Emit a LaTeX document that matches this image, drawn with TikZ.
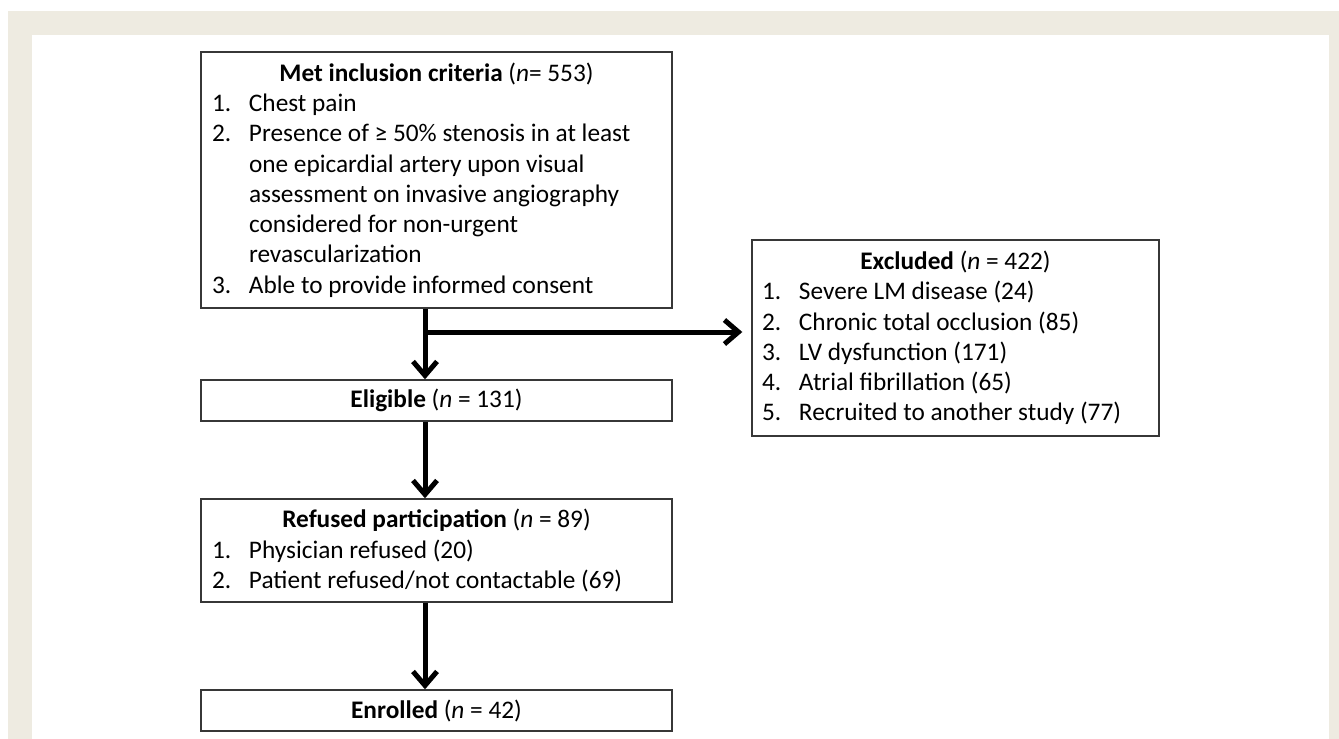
\documentclass[tikz,border=0pt]{standalone}
\usepackage{fontspec}
\setmainfont{Carlito}
\usetikzlibrary{arrows.meta,calc}
\definecolor{frame}{RGB}{238,235,225}
\definecolor{edge}{RGB}{55,55,55}
% list helpers
\newcommand{\hd}[1]{{\centering #1\par}}
\newcommand{\nm}[1]{\makebox[37pt][l]{#1}}
\newcommand{\ind}{\hspace*{37pt}}

\begin{document}
\begin{tikzpicture}[x=1pt, y=-1pt,
		box/.style={draw=edge, line width=1.4pt, inner xsep=11pt, inner ysep=0pt, align=flush left,
			font=\fontsize{25.3}{30.3}\selectfont, execute at begin node={\setlength{\parindent}{0pt}}},
		arr/.style={line width=5pt, -{Straight Barb[length=14pt, width=24pt, line width=0pt 1]}}]
		\useasboundingbox (0,0) rectangle (1339,739);
		% page frame
		\fill[frame] (8,11) rectangle (1339,739);
		\fill[white] (32,35) rectangle (1329,739);
		% boxes
		\node[box, text width=449pt, minimum width=471pt, minimum height=256pt] (inc) at (436.5,180) {%
			\hd{\textbf{Met inclusion criteria} (\textit{n}= 553)}
			\nm{1.}Chest pain\\
			\nm{2.}Presence of ≥ 50\% stenosis in at least\\
			\ind one epicardial artery upon visual\\
			\ind assessment on invasive angiography\\
			\ind considered for non-urgent\\
			\ind revascularization\\
			\nm{3.}Able to provide informed consent};
		\node[box, text width=449pt, minimum width=471pt, minimum height=41pt] (elig) at (436.5,400.5) {%
			\hd{\textbf{Eligible} (\textit{n} = 131)}};
		\node[box, inner xsep=10pt, text width=387pt, minimum width=407pt, minimum height=196pt] (excl) at (955.5,338) {%
			\hd{\textbf{Excluded} (\textit{n} = 422)}
			\nm{1.}Severe LM disease (24)\\
			\nm{2.}Chronic total occlusion (85)\\
			\nm{3.}LV dysfunction (171)\\
			\nm{4.}Atrial fibrillation (65)\\
			\nm{5.}Recruited to another study (77)};
		\node[box, text width=449pt, minimum width=471pt, minimum height=103pt] (refu) at (436.5,550.5) {%
			\hd{\textbf{Refused participation} (\textit{n} = 89)}
			\nm{1.}Physician refused (20)\\
			\nm{2.}Patient refused/not contactable (69)};
		\node[box, text width=449pt, minimum width=471pt, minimum height=41pt] (enr) at (436.5,710.5) {%
			\hd{\textbf{Enrolled} (\textit{n} = 42)}};
		% arrows
		\coordinate (ax) at (425,0);
		\coordinate (br) at (425,332);
		\draw[arr] (inc.south -| ax) -- (elig.north -| ax);
		\draw[arr, shorten >=9pt] (br) -- (excl.west |- br);
		\draw[arr] (elig.south -| ax) -- (refu.north -| ax);
		\draw[arr] (refu.south -| ax) -- (enr.north -| ax);
	\end{tikzpicture}
\end{document}
